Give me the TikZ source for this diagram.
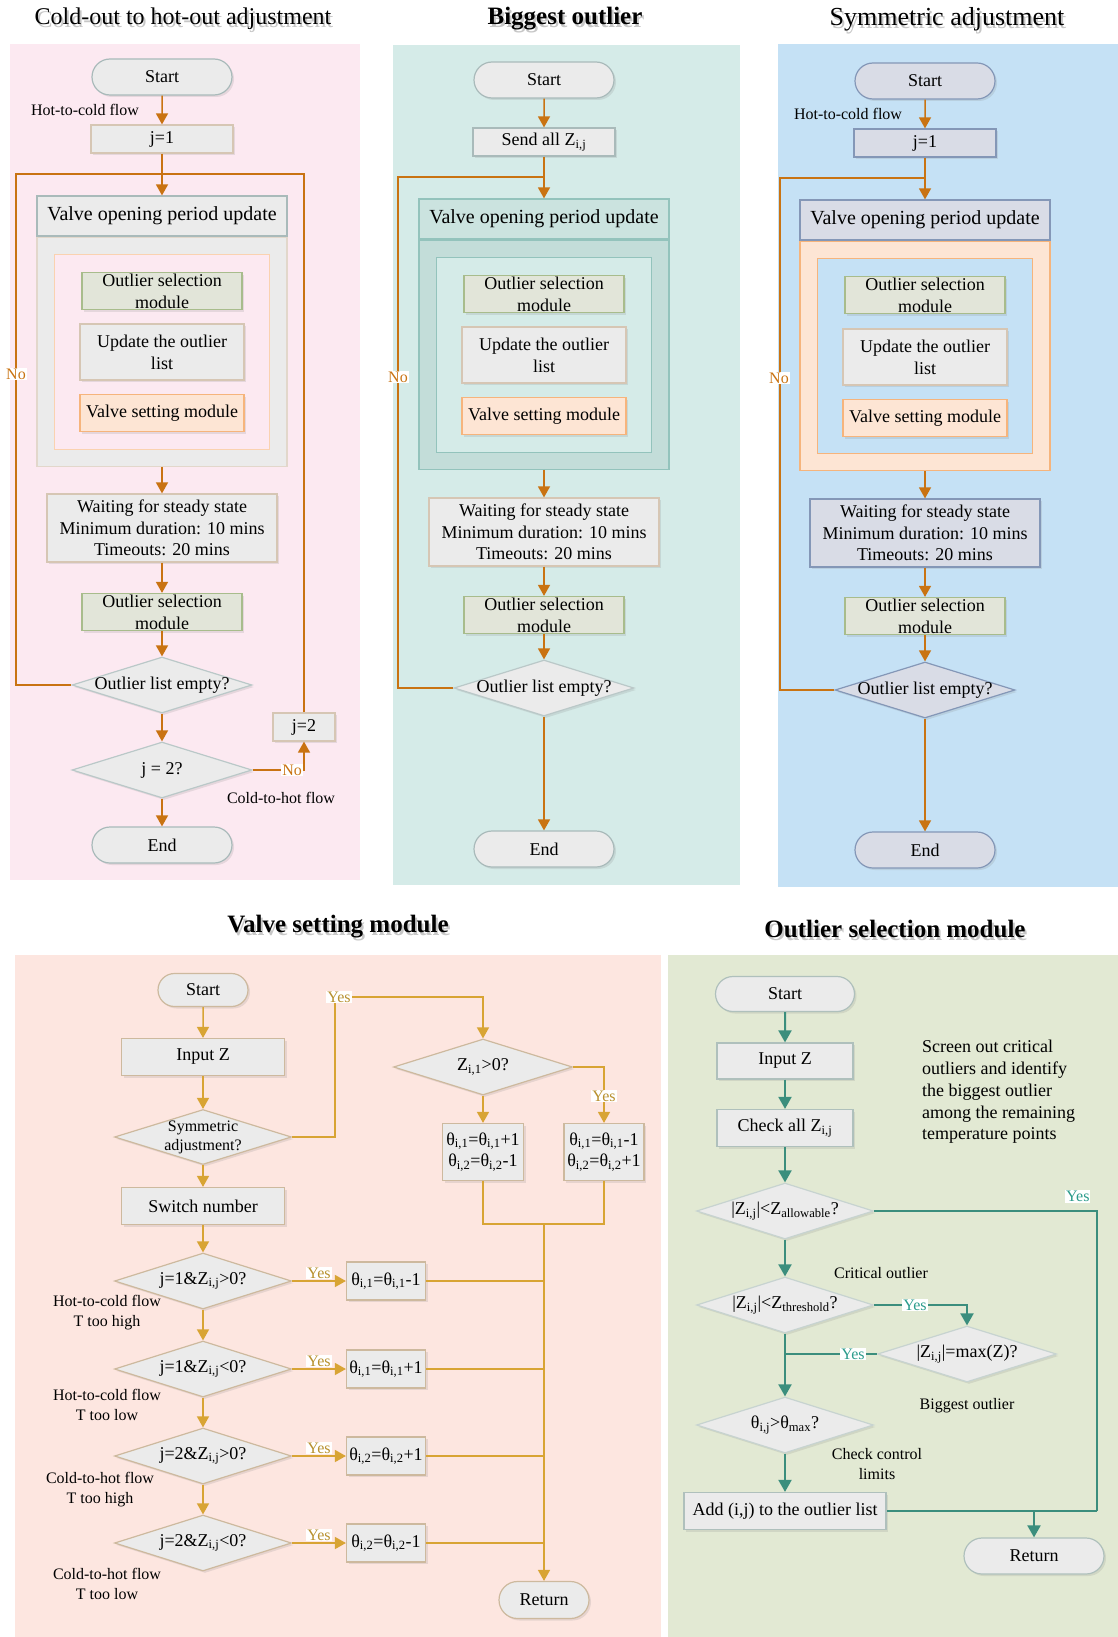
\documentclass[tikz,border=0pt]{standalone}
\usepackage{fontspec}
\setmainfont{Liberation Serif}
\usetikzlibrary{shapes.geometric,shapes.misc,arrows.meta,positioning,shadows}

\definecolor{pinkbg}{HTML}{FCE9F1}
\definecolor{tealbg}{HTML}{D5EBE8}
\definecolor{bluebg}{HTML}{C5E1F5}
\definecolor{salmonbg}{HTML}{FDE6E0}
\definecolor{greenbg}{HTML}{E2E9D3}
\definecolor{nodegrey}{HTML}{EBEBEB}
\definecolor{edgegrey}{HTML}{A9BABA}
\definecolor{edgetan}{HTML}{D6C6B4}
\definecolor{bluegrey}{HTML}{D9DCE6}
\definecolor{edgeblue}{HTML}{8497B7}
\definecolor{osmfill}{HTML}{E2E5D9}
\definecolor{osmedge}{HTML}{A8BC8C}
\definecolor{valvefill}{HTML}{FDE5D4}
\definecolor{valveedge}{HTML}{F6B47C}
\definecolor{tealhdr}{HTML}{CBE3DF}
\definecolor{tealbody}{HTML}{C3DDD9}
\definecolor{tealedge}{HTML}{93C3BC}
\definecolor{tanedge}{HTML}{CDB99E}
\definecolor{greenedge}{HTML}{AFC0BC}
\definecolor{arrorange}{HTML}{C97312}
\definecolor{arrgold}{HTML}{D8A434}
\definecolor{arrteal}{HTML}{3B8E7D}
\definecolor{txtgold}{HTML}{B8912F}
\definecolor{txtteal}{HTML}{2C9C8C}

\tikzset{
  base/.style={draw, line width=1.2pt, align=center, inner sep=1pt,
    font=\fontsize{18}{21.7}\selectfont,
    drop shadow={shadow xshift=2pt, shadow yshift=-2pt, opacity=0.18}},
  startend/.style={base, rounded rectangle, minimum width=142pt, minimum height=36pt},
  procbox/.style={base, rectangle, minimum width=142pt, minimum height=28pt},
  decision/.style={base, diamond, aspect=3.2, inner sep=-3pt, minimum width=180pt, minimum height=56pt},
  osmbox/.style={base, fill=osmfill, draw=osmedge, minimum width=160pt, minimum height=37pt, inner sep=0pt},
  updbox/.style={base, fill=nodegrey, draw=edgetan, minimum width=164pt, minimum height=56pt},
  valvebox/.style={base, fill=valvefill, draw=valveedge, minimum width=164pt, minimum height=37pt},
  hdrbox/.style={draw, line width=1.2pt, minimum width=250pt, minimum height=40pt, font=\fontsize{20}{24}\selectfont},
  bodybox/.style={draw, line width=1.2pt, minimum width=250pt, minimum height=229pt},
  framebox/.style={draw, line width=1.2pt, minimum width=215pt, minimum height=195pt},
  lbl/.style={font=\fontsize{16}{20}\selectfont, align=center, inner sep=0pt},
  nolbl/.style={lbl, text=arrorange, fill=white, inner sep=1pt},
  yesgold/.style={lbl, text=txtgold, fill=white, inner sep=1pt},
  yesteal/.style={lbl, text=txtteal, fill=white, inner sep=1pt},
  title/.style={font=\fontsize{24}{28}\selectfont},
  bigtitle/.style={font=\fontsize{25}{30}\selectfont\bfseries},
  oline/.style={draw=arrorange, line width=1.5pt},
  oflow/.style={oline, -{Triangle[width=12pt,length=11pt]}},
  gline/.style={draw=arrgold, line width=1.5pt},
  gflow/.style={gline, -{Triangle[width=12pt,length=11pt]}},
  tline/.style={draw=arrteal, line width=2pt},
  tflow/.style={tline, -{Triangle[width=13pt,length=12pt]}},
}

\begin{document}
\begin{tikzpicture}[x=1pt, y=-1pt, node distance=61pt]
\useasboundingbox (0,0) rectangle (1118,1637);

% panel backgrounds
\fill[pinkbg] (10,44) rectangle (360,880);
\fill[tealbg] (393,45) rectangle (740,885);
\fill[bluebg] (778,44) rectangle (1118,887);
\fill[salmonbg] (15,955) rectangle (661,1637);
\fill[greenbg] (668,955) rectangle (1118,1637);

% titles
\node[title, text=black!22] (tAs) at (185,22) {Cold-out to hot-out adjustment};
\node[title] (tA) at (183,19) {Cold-out to hot-out adjustment};
\node[bigtitle, text=black!22] (tBs) at (567,22) {Biggest outlier};
\node[bigtitle] (tB) at (565,19) {Biggest outlier};
\node[title, font=\fontsize{26}{30}\selectfont, text=black!22] (tCs) at (949,22) {Symmetric adjustment};
\node[title, font=\fontsize{26}{30}\selectfont] (tC) at (947,19) {Symmetric adjustment};
\node[bigtitle, text=black!22] (tLs) at (340,930) {Valve setting module};
\node[bigtitle] (tL) at (338,927) {Valve setting module};
\node[bigtitle, text=black!22] (tRs) at (897,932) {Outlier selection module};
\node[bigtitle] (tR) at (895,929) {Outlier selection module};

% ---------- Cold-out to hot-out adjustment ----------
\node[startend, fill=nodegrey, draw=edgegrey] (sA) at (162,77) {Start};
\node[procbox, fill=nodegrey, draw=edgetan] (jA) [below of=sA, node distance=62pt] {j=1};
\node[hdrbox, fill=nodegrey, draw=edgegrey] (hA) [below of=jA, node distance=77pt] {Valve opening period update};
\node[bodybox, fill=nodegrey, draw=edgetan!70, anchor=north] (bA) at (hA.south) {};
\node[framebox, fill=pinkbg, draw=valveedge!60] (fA) at (bA.center) {};
\node[osmbox] (oA) at (162,291) {Outlier selection\\module};
\node[updbox] (uA) [below of=oA] {Update the outlier\\list};
\node[valvebox] (vA) [below of=uA] {Valve setting module};
\node[procbox, fill=nodegrey, draw=edgetan, minimum width=230pt, minimum height=68pt] (wA) at (162,528)
  {Waiting for steady state\\Minimum duration: 10 mins\\Timeouts: 20 mins};
\node[osmbox] (o2A) [below of=wA, node distance=84pt] {Outlier selection\\module};
\node[decision, fill=nodegrey, draw=edgegrey!80] (dA) [below of=o2A, node distance=73pt] {Outlier list empty?};
\node[decision, fill=nodegrey, draw=edgegrey!80] (d2A) [below of=dA, node distance=85pt] {j = 2?};
\node[startend, fill=nodegrey, draw=edgegrey] (eA) [below of=d2A, node distance=75pt] {End};
\node[procbox, fill=nodegrey, draw=edgetan, minimum width=62pt] (j2A) at (304,727) {j=2};
\node[lbl] (hcA) at (85,110) {Hot-to-cold flow};
\node[lbl] (chA) at (281,798) {Cold-to-hot flow};
\coordinate (lpA) at (16,174);

\draw[oflow] (sA) -- (jA);
\draw[oflow] (jA) -- (hA);
\draw[oflow] (bA) -- (wA);
\draw[oflow] (wA) -- (o2A);
\draw[oflow] (o2A) -- (dA);
\draw[oflow] (dA) -- (d2A);
\draw[oflow] (d2A) -- (eA);
\draw[oline] (dA.west) -| (lpA) -- (jA.south |- lpA);
\draw[oflow] (d2A.east) -| node[nolbl, pos=0.385] (nA2) {No} (j2A.south);
\draw[oline] (j2A.north) |- (jA.south |- lpA);
\node[nolbl] (nA1) at (16,374) {No};

% ---------- Biggest outlier ----------
\node[startend, fill=nodegrey, draw=edgegrey] (sB) at (544,80) {Start};
\node[procbox, fill=nodegrey, draw=edgegrey] (zB) [below of=sB, node distance=62pt] {Send all Z\textsubscript{i,j}};
\node[hdrbox, fill=tealhdr, draw=tealedge] (hB) [below of=zB, node distance=77pt] {Valve opening period update};
\node[bodybox, fill=tealbody, draw=tealedge, anchor=north] (bB) at (hB.south) {};
\node[framebox, fill=tealbg, draw=tealedge] (fB) at (bB.center) {};
\node[osmbox] (oB) at (544,294) {Outlier selection\\module};
\node[updbox] (uB) [below of=oB] {Update the outlier\\list};
\node[valvebox] (vB) [below of=uB] {Valve setting module};
\node[procbox, fill=nodegrey, draw=edgetan, minimum width=230pt, minimum height=68pt] (wB) at (544,532)
  {Waiting for steady state\\Minimum duration: 10 mins\\Timeouts: 20 mins};
\node[osmbox] (o2B) [below of=wB, node distance=83pt] {Outlier selection\\module};
\node[decision, fill=nodegrey, draw=edgegrey!80] (dB) [below of=o2B, node distance=73pt] {Outlier list empty?};
\node[startend, fill=nodegrey, draw=edgegrey] (eB) [below of=dB, node distance=161pt] {End};
\coordinate (lpB) at (398,177);

\draw[oflow] (sB) -- (zB);
\draw[oflow] (zB) -- (hB);
\draw[oflow] (bB) -- (wB);
\draw[oflow] (wB) -- (o2B);
\draw[oflow] (o2B) -- (dB);
\draw[oflow] (dB) -- (eB);
\draw[oline] (dB.west) -| (lpB) -- (zB.south |- lpB);
\node[nolbl] (nB1) at (398,377) {No};

% ---------- Symmetric adjustment ----------
\node[startend, fill=bluegrey, draw=edgeblue] (sC) at (925,81) {Start};
\node[procbox, fill=bluegrey, draw=edgeblue] (jC) [below of=sC, node distance=62pt] {j=1};
\node[hdrbox, fill=bluegrey, draw=edgeblue] (hC) [below of=jC, node distance=77pt] {Valve opening period update};
\node[bodybox, fill=valvefill, draw=valveedge, line width=1.8pt, anchor=north] (bC) at (hC.south) {};
\node[framebox, fill=bluebg, draw=valveedge, line width=1.8pt] (fC) at (bC.center) {};
\node[osmbox] (oC) at (925,295) {Outlier selection\\module};
\node[updbox] (uC) [below of=oC, node distance=62pt] {Update the outlier\\list};
\node[valvebox] (vC) [below of=uC] {Valve setting module};
\node[procbox, fill=bluegrey, draw=edgeblue, minimum width=230pt, minimum height=68pt] (wC) at (925,533)
  {Waiting for steady state\\Minimum duration: 10 mins\\Timeouts: 20 mins};
\node[osmbox] (o2C) [below of=wC, node distance=83pt] {Outlier selection\\module};
\node[decision, fill=bluegrey, draw=edgeblue] (dC) [below of=o2C, node distance=74pt] {Outlier list empty?};
\node[startend, fill=bluegrey, draw=edgeblue] (eC) [below of=dC, node distance=160pt] {End};
\node[lbl] (hcC) at (848,114) {Hot-to-cold flow};
\coordinate (lpC) at (780,178);

\draw[oflow] (sC) -- (jC);
\draw[oflow] (jC) -- (hC);
\draw[oflow] (bC) -- (wC);
\draw[oflow] (wC) -- (o2C);
\draw[oflow] (o2C) -- (dC);
\draw[oflow] (dC) -- (eC);
\draw[oline] (dC.west) -| (lpC) -- (jC.south |- lpC);
\node[nolbl] (nC1) at (779,378) {No};

% ---------- Valve setting module ----------
\node[startend, fill=nodegrey, draw=tanedge, minimum width=92pt, minimum height=33pt] (sL) at (203,990) {Start};
\node[procbox, fill=nodegrey, draw=tanedge, minimum width=163pt, minimum height=37pt] (inL) [below of=sL, node distance=67pt] {Input Z};
\node[decision, fill=nodegrey, draw=tanedge, minimum width=177pt, minimum height=55pt, font=\fontsize{16}{19}\selectfont] (symL) [below of=inL, node distance=80pt] {Symmetric\\adjustment?};
\node[procbox, fill=nodegrey, draw=tanedge, minimum width=163pt, minimum height=37pt] (swL) [below of=symL, node distance=69pt] {Switch number};
\node[decision, fill=nodegrey, draw=tanedge, minimum width=177pt] (d1L) [below of=swL, node distance=75pt] {j=1\&Z\textsubscript{i,j}>0?};
\node[decision, fill=nodegrey, draw=tanedge, minimum width=177pt] (d2L) [below of=d1L, node distance=88pt] {j=1\&Z\textsubscript{i,j}<0?};
\node[decision, fill=nodegrey, draw=tanedge, minimum width=177pt] (d3L) [below of=d2L, node distance=87pt] {j=2\&Z\textsubscript{i,j}>0?};
\node[decision, fill=nodegrey, draw=tanedge, minimum width=177pt] (d4L) [below of=d3L, node distance=87pt] {j=2\&Z\textsubscript{i,j}<0?};
\node[procbox, fill=nodegrey, draw=tanedge, minimum width=79pt, minimum height=38pt] (b1L) at (386,1281) {θ\textsubscript{i,1}=θ\textsubscript{i,1}-1};
\node[procbox, fill=nodegrey, draw=tanedge, minimum width=79pt, minimum height=38pt] (b2L) at (386,1369) {θ\textsubscript{i,1}=θ\textsubscript{i,1}+1};
\node[procbox, fill=nodegrey, draw=tanedge, minimum width=79pt, minimum height=38pt] (b3L) at (386,1456) {θ\textsubscript{i,2}=θ\textsubscript{i,2}+1};
\node[procbox, fill=nodegrey, draw=tanedge, minimum width=79pt, minimum height=38pt] (b4L) at (386,1543) {θ\textsubscript{i,2}=θ\textsubscript{i,2}-1};
\node[decision, fill=nodegrey, draw=tanedge, minimum width=179pt] (zL) at (483,1067) {Z\textsubscript{i,1}>0?};
\node[procbox, fill=nodegrey, draw=tanedge, minimum width=81pt, minimum height=57pt] (pL) at (483,1152) {θ\textsubscript{i,1}=θ\textsubscript{i,1}+1\\θ\textsubscript{i,2}=θ\textsubscript{i,2}-1};
\node[procbox, fill=nodegrey, draw=tanedge, minimum width=80pt, minimum height=57pt] (mL) at (604,1152) {θ\textsubscript{i,1}=θ\textsubscript{i,1}-1\\θ\textsubscript{i,2}=θ\textsubscript{i,2}+1};
\node[startend, fill=nodegrey, draw=tanedge, minimum width=92pt, minimum height=37pt] (rL) at (544,1600) {Return};
\node[lbl] (c1L) at (107,1313) {Hot-to-cold flow\\T too high};
\node[lbl] (c2L) at (107,1405) {Hot-to-cold flow\\T too low};
\node[lbl] (c3L) at (100,1490) {Cold-to-hot flow\\T too high};
\node[lbl] (c4L) at (107,1584) {Cold-to-hot flow\\T too low};
\coordinate (ysL) at (335,997);
\coordinate (jnL) at (544,1224);

\draw[gflow] (sL) -- (inL);
\draw[gflow] (inL) -- (symL);
\draw[gflow] (symL) -- (swL);
\draw[gflow] (swL) -- (d1L);
\draw[gflow] (d1L) -- (d2L);
\draw[gflow] (d2L) -- (d3L);
\draw[gflow] (d3L) -- (d4L);
\draw[gline] (symL.east) -| (ysL);
\draw[gflow] (ysL) -| (zL.north);
\node[yesgold] (y0L) at (339,997) {Yes};
\draw[gflow] (zL.south) -- (pL.north);
\draw[gflow] (zL.east) -| node[yesgold, pos=0.76] (y5L) {Yes} (mL.north);
\draw[gline] (pL.south) |- (jnL);
\draw[gline] (mL.south) |- (jnL);
\draw[gflow] (jnL) -- (rL.north);
\draw[gflow] (d1L.east) -- node[yesgold, above=1pt] (y1L) {Yes} (b1L.west);
\draw[gflow] (d2L.east) -- node[yesgold, above=1pt] (y2L) {Yes} (b2L.west);
\draw[gflow] (d3L.east) -- node[yesgold, above=1pt] (y3L) {Yes} (b3L.west);
\draw[gflow] (d4L.east) -- node[yesgold, above=1pt] (y4L) {Yes} (b4L.west);
\draw[gline] (b1L.east) -- (b1L.east -| jnL);
\draw[gline] (b2L.east) -- (b2L.east -| jnL);
\draw[gline] (b3L.east) -- (b3L.east -| jnL);
\draw[gline] (b4L.east) -- (b4L.east -| jnL);

% ---------- Outlier selection module ----------
\node[startend, fill=nodegrey, draw=greenedge, minimum width=141pt, minimum height=35pt] (sR) at (785,994) {Start};
\node[procbox, fill=nodegrey, draw=greenedge, minimum width=136pt, minimum height=36pt] (inR) [below of=sR, node distance=67pt] {Input Z};
\node[procbox, fill=nodegrey, draw=greenedge, minimum width=136pt, minimum height=37pt] (chkR) [below of=inR, node distance=67pt] {Check all Z\textsubscript{i,j}};
\node[decision, fill=nodegrey, draw=greenedge!70, minimum width=177pt] (alR) [below of=chkR, node distance=83pt] {|Z\textsubscript{i,j}|<Z\textsubscript{allowable}?};
\node[decision, fill=nodegrey, draw=greenedge!70, minimum width=177pt] (thR) [below of=alR, node distance=94pt] {|Z\textsubscript{i,j}|<Z\textsubscript{threshold}?};
\node[decision, fill=nodegrey, draw=greenedge!70, minimum width=179pt] (mxR) at (967,1354) {|Z\textsubscript{i,j}|=max(Z)?};
\node[decision, fill=nodegrey, draw=greenedge!70, minimum width=177pt] (thtR) [below of=thR, node distance=120pt] {θ\textsubscript{i,j}>θ\textsubscript{max}?};
\node[procbox, fill=nodegrey, draw=greenedge, minimum width=202pt, minimum height=37pt] (addR) [below of=thtR, node distance=86pt] {Add (i,j) to the outlier list};
\node[startend, fill=nodegrey, draw=greenedge, minimum width=142pt, minimum height=36pt] (retR) at (1034,1556) {Return};
\node[lbl, font=\fontsize{18}{21.7}\selectfont, align=left, anchor=west] (noteR) at (922,1092)
  {Screen out critical\\outliers and identify\\the biggest outlier\\among the remaining\\temperature points};
\node[lbl] (crR) at (881,1273) {Critical outlier};
\node[lbl] (bgR) at (967,1406) {Biggest outlier};
\node[lbl] (ckR) at (877,1464) {Check control\\limits};
\coordinate (cnR) at (1097,1511);

\draw[tflow] (sR) -- (inR);
\draw[tflow] (inR) -- (chkR);
\draw[tflow] (chkR) -- (alR);
\draw[tflow] (alR) -- (thR);
\draw[tflow] (thR) -- (thtR);
\draw[tflow] (thtR) -- (addR);
\draw[tline] (alR.east) -| node[yesteal, pos=0.457, above=7pt] (y1R) {Yes} (cnR);
\draw[tline] (cnR) -- (addR.east);
\draw[tflow] (retR.north |- addR.east) -- (retR.north);
\draw[tflow] (thR.east) -| node[yesteal, pos=0.22] (y2R) {Yes} (mxR.north);
\draw[tline] (mxR.west) -- node[yesteal, pos=0.26] (y3R) {Yes} (thR.south |- mxR.west);
\end{tikzpicture}
\end{document}
